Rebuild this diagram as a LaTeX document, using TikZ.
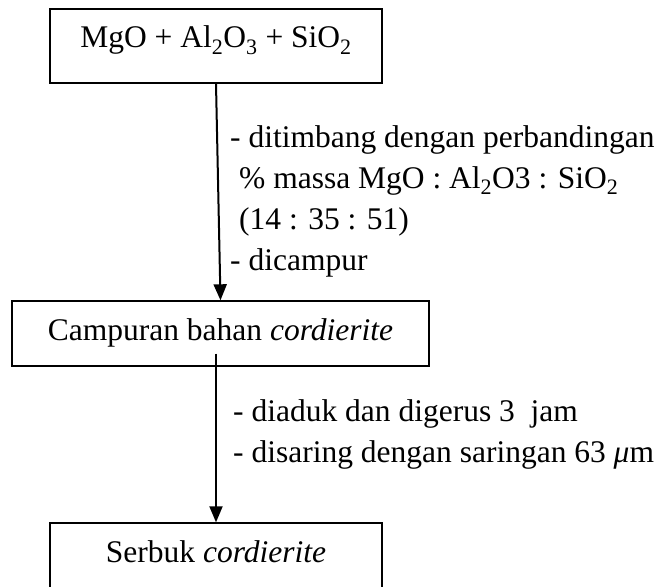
\documentclass[tikz,border=0pt]{standalone}
\usepackage{fontspec}
\setmainfont{Liberation Serif}
\usetikzlibrary{arrows.meta}
\begin{document}
\begin{tikzpicture}[x=1pt,y=-1pt,
  box/.style={draw, line width=1.4pt, inner xsep=0pt, inner ysep=0pt, anchor=base},
  flow/.style={line width=2pt, -{Triangle[length=16pt,width=13pt]}},
  note/.style={anchor=base west, inner sep=0pt},
  font=\fontsize{31.5}{41}\selectfont]
\clip (0,0) rectangle (668,586);
\useasboundingbox (0,0) rectangle (668,586);
% process boxes
\node[box, minimum width=332pt, text height=39pt, text depth=35pt] (b1) at (216,48)
  {MgO + Al\textsubscript{2}O\textsubscript{3} + SiO\textsubscript{2}};
\node[box, minimum width=417pt, text height=39pt, text depth=26pt] (b2) at (220.5,340)
  {Campuran bahan \textit{cordierite}};
\node[box, minimum width=332pt, text height=39pt, text depth=50pt] (b3) at (216,562)
  {Serbuk \textit{cordierite}};
% flow arrows
\draw[flow] (b1.south) -- (b2.north);
\draw[flow] ([yshift=13pt]b2.south -| b3.north) -- (b3.north);
% step notes
\node[note] (n1) at (230,147) {- ditimbang dengan perbandingan};
\node[note] (n2) at (239,188) {\% massa MgO : Al\textsubscript{2}O3 : SiO\textsubscript{2}};
\node[note] (n3) at (239,229) {(14 : 35 : 51)};
\node[note] (n4) at (230,270) {- dicampur};
\node[note] (n5) at (233,421) {- diaduk dan digerus 3\ \ jam};
\node[note] (n6) at (233,462) {- disaring dengan saringan 63 \textit{μ}m};
\end{tikzpicture}
\end{document}
